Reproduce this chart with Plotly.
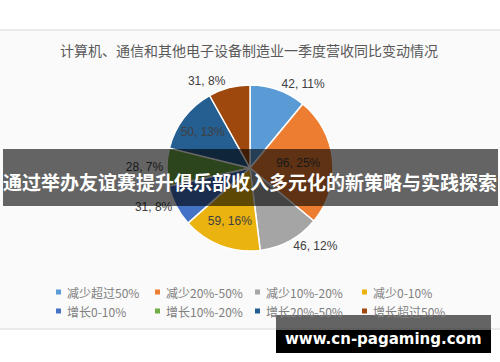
import plotly.graph_objects as go

# ---- data ----
categories = ["减少超过50%", "减少20%-50%", "减少10%-20%", "减少0-10%",
              "增长0-10%", "增长10%-20%", "增长20%-50%", "增长超过50%"]
values = [42, 96, 46, 59, 31, 28, 50, 31]
pct_labels = ["11%", "25%", "12%", "16%", "8%", "7%", "13%", "8%"]
colors = ["#5B9BD5", "#ED7D31", "#A5A5A5", "#EBB30F",
          "#4472C4", "#70AD47", "#255E91", "#9E480E"]
label_pos = ["outside", "inside", "outside", "inside",
             "outside", "outside", "inside", "outside"]

title_text = "计算机、通信和其他电子设备制造业一季度营收同比变动情况"
banner_text = "通过举办友谊赛提升俱乐部收入多元化的新策略与实践探索"
watermark_text = "www.cn-pagaming.com"

W, H = 500, 362
def px(x): return x / W
def py(y): return 1 - y / H

labels_text = [f"{v}, {p}" for v, p in zip(values, pct_labels)]

fig = go.Figure(go.Pie(
    labels=categories,
    values=values,
    text=labels_text,
    textinfo="text",
    textposition=label_pos,
    insidetextorientation="horizontal",
    textfont=dict(family="Liberation Sans, Arial, sans-serif", size=12, color="#404040"),
    marker=dict(colors=colors, line=dict(color="white", width=1.5)),
    sort=False,
    direction="clockwise",
    rotation=0,
    hole=0,
    domain=dict(x=[px(167), px(333)], y=[py(251), py(85)]),
    showlegend=False,
))

shapes = []
annotations = []

# chart frame
shapes.append(dict(type="rect", xref="paper", yref="paper",
                   x0=-0.02, x1=1.02, y0=py(329), y1=py(30),
                   fillcolor="#FAFAFA", line=dict(color="#D9D9D9", width=1),
                   layer="below"))

# title
annotations.append(dict(text=title_text, xref="paper", yref="paper",
                        x=px(249), y=py(50), showarrow=False,
                        xanchor="center", yanchor="middle",
                        font=dict(family="Noto Sans CJK SC", size=14, color="#595959")))

# manual legend (built from categories / colors)
col_x = [56, 155, 255, 362]
row_y = [292, 311]
for i, (name, c) in enumerate(zip(categories, colors)):
    r, k = divmod(i, 4)
    x0 = col_x[k]
    yc = row_y[r]
    shapes.append(dict(type="rect", xref="paper", yref="paper",
                       x0=px(x0), x1=px(x0 + 5), y0=py(yc + 2.5), y1=py(yc - 2.5),
                       fillcolor=c, line=dict(width=0), layer="above"))
    annotations.append(dict(text=name, xref="paper", yref="paper",
                            x=px(x0 + 9), y=py(yc), showarrow=False,
                            xanchor="left", yanchor="middle",
                            font=dict(family="Noto Sans CJK SC", size=12, color="#808080")))

# banner overlay
shapes.append(dict(type="rect", xref="paper", yref="paper",
                   x0=px(3), x1=px(498), y0=py(206), y1=py(149),
                   fillcolor="rgba(0,0,0,0.6)", line=dict(width=0), layer="above"))
annotations.append(dict(text=f"<b>{banner_text}</b>", xref="paper", yref="paper",
                        x=px(250), y=py(181), showarrow=False,
                        xanchor="center", yanchor="middle",
                        font=dict(family="Noto Sans CJK SC", size=19, color="white")))

# watermark
shapes.append(dict(type="rect", xref="paper", yref="paper",
                   x0=px(276), x1=px(491), y0=py(330), y1=py(315),
                   fillcolor="rgba(0,0,0,0.6)", line=dict(width=0), layer="above"))
shapes.append(dict(type="rect", xref="paper", yref="paper",
                   x0=px(276), x1=px(491), y0=py(353), y1=py(330),
                   fillcolor="black", line=dict(width=0), layer="above"))
annotations.append(dict(text=f"<b>{watermark_text}</b>", xref="paper", yref="paper",
                        x=px(383), y=py(339), showarrow=False,
                        xanchor="center", yanchor="middle",
                        font=dict(family="DejaVu Sans", size=15, color="white")))

fig.update_layout(
    width=W, height=H,
    margin=dict(l=0, r=0, t=0, b=0),
    paper_bgcolor="white",
    plot_bgcolor="white",
    shapes=shapes,
    annotations=annotations,
)

fig.write_html("out.html", config={"displayModeBar": False},
               post_script="document.body.style.margin='0';")
